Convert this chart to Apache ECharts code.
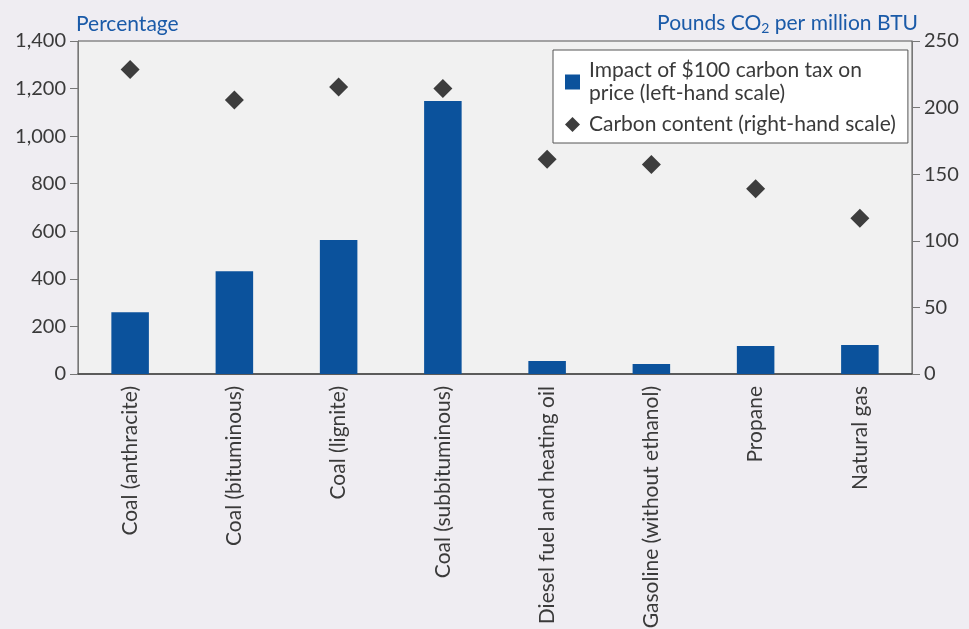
<!DOCTYPE html>
<html>
<head>
<meta charset="utf-8">
<script src="https://cdn.jsdelivr.net/npm/echarts@6/dist/echarts.min.js"></script>
<style>
  html, body { margin: 0; padding: 0; background: #efedf2; }
  #chart-container { width: 969px; height: 629px; }
</style>
</head>
<body>
<div id="chart-container"></div>
<script>
var dom = document.getElementById('chart-container');
var myChart = echarts.init(dom, null, { renderer: 'canvas' });

// data
var fuels = [
  'Coal (anthracite)',
  'Coal (bituminous)',
  'Coal (lignite)',
  'Coal (subbituminous)',
  'Diesel fuel and heating oil',
  'Gasoline (without ethanol)',
  'Propane',
  'Natural gas'
];
var taxImpact = [260, 432, 563, 1148, 55, 42, 118, 122];        // percent, left scale
var carbonContent = [228.6, 205.7, 215.4, 214.3, 161.3, 157.2, 139.0, 117.0]; // lbs CO2 / million BTU

var textColor = '#3a3a3a';
var blue = '#1a5aa8';
var font = 'Lato';

var option = {
  backgroundColor: '#efedf2',
  textStyle: { fontFamily: font },
  grid: {
    left: 78,
    right: 57,
    top: 41,
    bottom: 255,
    outerBoundsMode: 'none',  // long rotated labels run off the bottom, like the original
    show: true,
    backgroundColor: '#f1f1f1',
    borderColor: '#555',
    borderWidth: 1
  },
  legend: {
    orient: 'vertical',
    left: 553,
    top: 50,
    width: 340,
    padding: [9, 12, 7, 12],
    itemGap: 8,
    itemWidth: 15,
    itemHeight: 15,
    backgroundColor: '#ffffff',
    borderColor: '#555',
    borderWidth: 1,
    textStyle: { fontFamily: font, fontSize: 21, color: textColor, lineHeight: 23, padding: [0, 0, 0, 4] },
    data: [
      { name: 'Impact of $100 carbon tax on\nprice (left-hand scale)', icon: 'rect' },
      { name: 'Carbon content (right-hand scale)', icon: 'diamond' }
    ]
  },
  xAxis: {
    type: 'category',
    data: fuels,
    axisLine: { lineStyle: { color: '#444', width: 1.5 } },
    axisTick: { show: false },
    axisLabel: {
      rotate: 90,
      interval: 0,
      margin: 12,
      fontFamily: font,
      fontSize: 21,
      color: textColor
    }
  },
  yAxis: [
    {
      type: 'value',
      min: 0,
      max: 1400,
      interval: 200,
      name: 'Percentage',
      nameLocation: 'end',
      nameGap: 6,
      nameTextStyle: { fontFamily: font, fontSize: 21, color: blue, align: 'left', padding: [0, 0, 0, -2] },
      axisLine: { show: true, lineStyle: { color: '#777' } },
      axisTick: { show: true, length: 8, lineStyle: { color: '#777' } },
      splitLine: { show: false },
      axisLabel: {
        fontFamily: font,
        fontSize: 20,
        color: textColor,
        margin: 12,
        formatter: function (v) { return v.toLocaleString('en-US'); }
      }
    },
    {
      type: 'value',
      min: 0,
      max: 250,
      interval: 50,
      position: 'right',
      name: '{a|Pounds CO}{s|2}{a| per million BTU}',
      nameLocation: 'end',
      nameGap: 6,
      nameTextStyle: {
        align: 'right',
        padding: [0, -6, 0, 0],
        rich: {
          a: { fontFamily: font, fontSize: 21, color: blue },
          s: { fontFamily: font, fontSize: 14, color: blue, padding: [10, 0, 0, 0] }
        }
      },
      axisLine: { show: true, lineStyle: { color: '#777' } },
      axisTick: { show: true, length: 8, lineStyle: { color: '#777' } },
      splitLine: { show: false },
      axisLabel: { fontFamily: font, fontSize: 20, color: textColor, margin: 12 }
    }
  ],
  series: [
    {
      name: 'Impact of $100 carbon tax on\nprice (left-hand scale)',
      type: 'bar',
      yAxisIndex: 0,
      barWidth: '36%',
      itemStyle: { color: '#0b529c' },
      data: taxImpact
    },
    {
      name: 'Carbon content (right-hand scale)',
      type: 'scatter',
      yAxisIndex: 1,
      symbol: 'diamond',
      symbolSize: 19,
      itemStyle: { color: '#3d3d3d', opacity: 1 },
      data: carbonContent
    }
  ]
};

myChart.setOption(option);
</script>
</body>
</html>
